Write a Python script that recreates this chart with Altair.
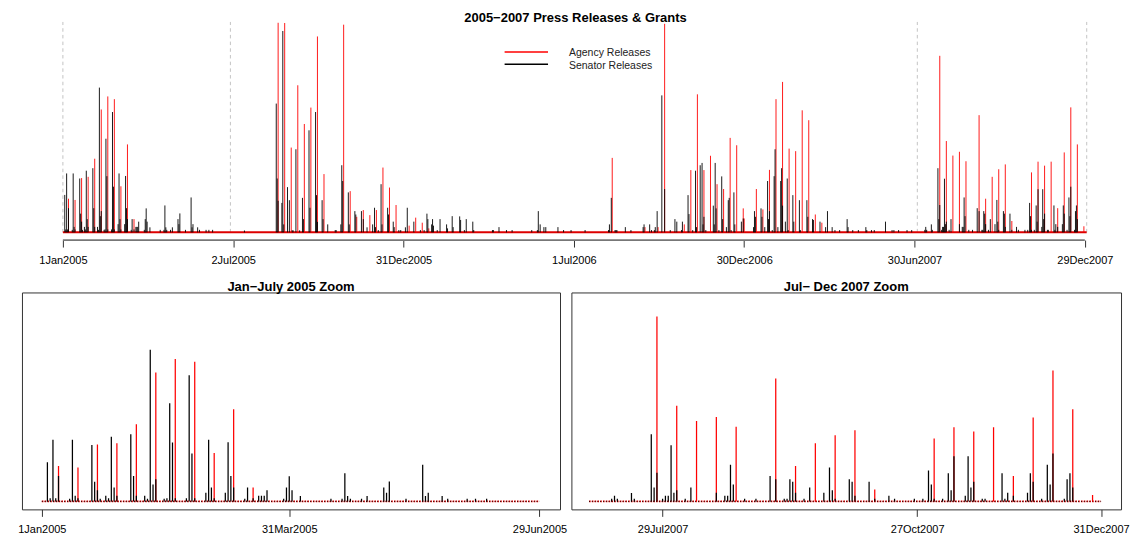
import altair as alt
import pandas as pd

# ---------------- data (day index: 0 = 1 Jan 2005) ----------------
sen_days = [2,3,4,5,6,10,11,12,13,18,19,20,21,23,24,25,26,27,32,33,34,37,38,39,40,41,44,45,46,47,48,
            52,53,54,55,59,60,61,62,66,67,68,69,73,74,76,78,79,80,81,87,88,89,90,93,104,108,109,110,111,
            115,117,123,124,125,131,137,138,139,144,146,153,156,160,
            194,228,229,230,234,235,236,240,242,245,246,249,253,256,257,263,264,270,271,272,277,278,283,
            291,292,297,298,299,305,306,312,313,319,321,325,331,333,334,337,340,341,347,348,353,354,359,
            361,366,368,375,382,386,389,390,394,395,396,400,403,410,411,416,417,424,425,429,431,438,439,
            459,460,466,474,480,501,507,508,510,514,516,529,535,543,
            558,583,584,586,590,591,592,601,607,620,621,627,629,632,633,635,640,643,649,654,656,661,662,
            668,669,673,676,677,681,683,684,685,687,695,696,697,698,701,704,705,709,711,712,714,717,718,
            725,727,738,739,740,746,747,750,753,754,755,758,760,761,764,767,768,769,772,774,775,780,781,
            787,788,795,796,801,802,809,815,817,822,825,830,838,839,844,850,858,859,864,867,879,886,888,
            893,902,907,
            921,922,923,928,929,935,936,937,939,940,941,942,943,944,947,949,958,961,962,963,964,968,972,
            977,979,982,983,984,985,986,989,991,996,998,999,1000,1005,1006,1007,1012,1014,1019,1021,1028,
            1031,1033,1034,1035,1038,1040,1041,1042,1046,1047,1048,1049,1052,1053,1059,1060,1061,1063,
            1068,1069,1070,1073,1075,1076,1077,1081,1082,1083,1084]
sen_vals = [17.8,1.4,28.0,1.4,11.5,1.2,28.0,2.6,1.4,25.6,8.9,5.1,1.2,2.6,1.4,29.3,6.3,2.6,30.5,11.5,2.6,
            2.6,1.2,68.8,7.7,10.1,1.2,1.4,44.5,26.7,1.4,
            1.4,57.2,21.7,1.4,3.9,28.0,6.3,1.4,3.9,26.8,11.5,6.3,1.2,6.3,1.4,2.6,2.6,2.6,5.1,1.2,6.3,11.4,
            5.1,2.4,1.2,1.2,12.8,2.4,1.2,
            1.2,2.4,6.3,3.9,9.0,1.2,16.6,2.4,3.9,2.4,1.2,1.2,1.2,1.2,
            0.9,61.2,25.6,15.0,14.0,95.7,3.8,21.5,15.3,1.0,1.0,39.5,1.0,16.4,6.3,48.5,11.7,57.2,17.7,5.0,
            15.3,6.3,3.8,
            1.1,1.1,3.8,31.9,24.4,19.0,3.8,10.1,8.5,10.1,6.3,2.4,3.8,11.7,2.5,1.1,22.9,3.8,11.7,8.5,5.1,
            2.5,1.1,
            1.1,2.4,11.7,5.1,1.1,1.1,8.9,6.3,3.8,6.3,3.2,1.1,6.3,3.8,1.9,7.7,2.5,7.6,5.9,1.1,6.3,5.1,1.1,
            1.1,1.1,2.5,1.1,1.1,1.1,1.1,10.1,3.8,2.5,2.5,2.5,1.1,1.1,
            1.1,1.1,3.8,16.4,1.1,1.1,1.1,2.5,1.1,2.5,3.8,3.8,1.1,1.1,2.5,10.1,65.1,20.6,1.1,6.3,5.1,1.1,
            5.1,
            17.7,8.7,1.1,29.3,2.5,31.9,33.0,3.8,7.4,1.1,12.7,3.8,33.0,11.4,1.1,26.6,6.3,2.5,15.3,16.4,1.1,
            19.0,3.8,
            5.1,6.6,2.5,10.1,7.4,11.4,7.4,2.5,24.4,6.3,10.1,1.1,26.7,39.5,2.5,24.4,30.5,12.7,5.1,25.6,1.1,
            17.7,5.1,
            15.3,1.1,15.3,7.4,6.3,5.9,5.1,2.5,10.1,2.5,1.1,1.1,6.3,2.5,1.1,1.1,2.5,1.1,1.1,1.1,5.1,1.1,1.1,
            1.1,1.1,1.1,
            1.2,2.6,1.2,3.8,1.2,30.5,6.3,13.0,1.2,2.6,2.6,25.5,3.9,5.1,1.2,6.3,3.9,2.6,2.6,16.6,7.7,1.2,
            1.2,
            11.5,10.1,1.2,1.2,10.1,8.9,3.9,1.2,6.3,3.9,15.4,5.1,1.2,10.1,8.9,2.6,8.9,1.2,2.6,1.2,1.2,
            1.2,14.0,7.7,1.2,1.2,12.8,5.1,20.5,2.6,20.5,6.3,8.9,1.2,1.2,12.8,1.2,3.9,2.6,
            3.9,12.8,8.9,1.2,16.6,7.7,21.7,1.2,10.1,12.8,6.3]

ag_days = [6,13,20,27,34,41,48,55,62,69,76,
           230,237,244,251,258,265,272,279,300,307,314,321,328,335,342,349,356,370,377,384,391,
           587,622,636,643,664,671,678,685,692,699,706,713,720,727,728,741,748,755,762,769,776,783,
           790,797,804,811,
           937,944,951,958,965,979,986,993,1000,1007,1014,1035,1042,1049,1056,1063,1070,1077,1084,1091]
ag_vals = [16.0,15.4,25.8,26.4,35.0,58.4,64.6,63.3,21.9,41.8,6.3,
           99.6,99.5,40.3,69.9,51.5,59.3,93.1,27.7,98.7,19.6,7.4,10.6,8.2,10.6,30.8,21.3,13.0,3.2,7.0,
           4.6,1.9,
           35.4,2.5,2.5,99.1,3.8,29.6,65.6,29.6,36.4,22.9,20.6,44.9,41.4,11.4,6.6,20.6,10.9,29.7,63.3,
           71.5,39.8,38.6,58.0,53.3,8.5,4.6,
           83.9,43.4,36.5,38.3,33.8,55.7,16.0,26.4,30.0,32.3,5.4,28.5,33.6,31.7,33.6,11.5,38.0,59.4,
           41.8,2.9]

series_names = ["Agency Releases", "Senator Releases"]
series_colors = ["#ff0000", "#000000"]

top_tick_days = [0, 182, 364, 546, 728, 910, 1092]
top_tick_labels = ["1Jan2005", "2Jul2005", "31Dec2005", "1Jul2006", "30Dec2006", "30Jun2007", "29Dec2007"]
left_tick_days = [0, 89, 179]
left_tick_labels = ["1Jan2005", "31Mar2005", "29Jun2005"]
right_tick_days = [939, 1029, 1094]
right_tick_labels = ["29Jul2007", "27Oct2007", "31Dec2007"]
zoom_bounds = [0, 179, 913, 1094]

main_title = "2005\u22122007 Press Releases & Grants"
left_title = "Jan\u2212July 2005 Zoom"
right_title = "Jul\u2212 Dec 2007 Zoom"

# ---------------- tables ----------------
bars = pd.DataFrame({
    "day": ag_days + sen_days,
    "value": ag_vals + sen_vals,
    "base": 0.0,
    "series": [series_names[0]] * len(ag_days) + [series_names[1]] * len(sen_days),
})
guides = pd.DataFrame({"day": zoom_bounds, "lo": 0, "hi": 100})
base_all = pd.DataFrame({"start": [min(zoom_bounds)], "end": [max(zoom_bounds)], "zero": [0]})
axis_line = pd.DataFrame({"start": [min(top_tick_days)], "end": [max(top_tick_days)]})

FONT = "Liberation Sans"
TOP_W, TOP_H = 1101, 218.5
BOT_H = 217.3
BL_W, BR_W = 539, 550.6


def lab_expr(vals, labs):
    e = "''"
    for v, l in zip(reversed(vals), reversed(labs)):
        e = f"datum.value == {v} ? '{l}' : {e}"
    return e


def x_axis(vals, labs, pad):
    return alt.Axis(values=vals, labelExpr=lab_expr(vals, labs), domain=False, grid=False, title=None,
                    tickSize=7, tickColor="#333", tickWidth=1, labelFont=FONT, labelFontSize=11,
                    labelColor="#000", labelBaseline="alphabetic", labelPadding=pad,
                    labelFlush=False, labelOverlap=False)


color = alt.Color("series:N", scale=alt.Scale(domain=series_names, range=series_colors), legend=None)

# ---------------- top panel ----------------
tx = alt.Scale(domain=[-43.73, 1130.67], nice=False, zero=False)
ty = alt.Scale(domain=[-3.65, 100], nice=False, zero=False)
tax = x_axis(top_tick_days, top_tick_labels, 16.3)

t_guides = alt.Chart(guides).mark_rule(color="#c4c4c4", strokeWidth=1, strokeDash=[3.5, 3.2]).encode(
    x=alt.X("day:Q", scale=tx, axis=tax), y=alt.Y("lo:Q", scale=ty, axis=None), y2="hi:Q")
t_bars = alt.Chart(bars).mark_rule(strokeWidth=0.9, clip=True).encode(
    x=alt.X("day:Q", scale=tx, axis=tax),
    y=alt.Y("value:Q", scale=ty, axis=None), y2="base:Q", color=color)
t_base = alt.Chart(base_all).mark_rule(color="#dd0000", strokeWidth=2).encode(
    x=alt.X("start:Q", scale=tx, axis=tax), x2="end:Q", y=alt.Y("zero:Q", scale=ty, axis=None))
t_axis = alt.Chart(axis_line).mark_rule(color="#777", strokeWidth=1.8).encode(
    x=alt.X("start:Q", scale=tx, axis=tax), x2="end:Q", y=alt.value(TOP_H))

leg_layers = []
for i, (nm, col) in enumerate(zip(series_names, series_colors)):
    d = pd.DataFrame({"name": [nm]})
    leg_layers.append(alt.Chart(d).mark_rule(color=col, strokeWidth=1.5).encode(
        x=alt.value(483.5), x2=alt.value(527), y=alt.value(30.2 + 12.3 * i)))
    leg_layers.append(alt.Chart(d).mark_text(align="left", baseline="alphabetic", font=FONT,
                                             fontSize=10.5, color="#222").encode(
        x=alt.value(548), y=alt.value(34.6 + 12.3 * i), text="name:N"))

top = alt.layer(t_guides, t_base, t_bars, t_axis, *leg_layers).properties(
    width=TOP_W, height=TOP_H,
    title=alt.Title(main_title, font=FONT, fontSize=13, fontWeight="bold", color="#000",
                    baseline="alphabetic", offset=-13.5, dx=4, anchor="middle"))


# ---------------- zoom panels ----------------
def zoom_panel(lo, hi, dom, width, ticks, labels, title):
    xs = alt.Scale(domain=dom, nice=False, zero=False)
    ys = alt.Scale(domain=[-3.62, 94.75], nice=False, zero=False)
    ax = x_axis(ticks, labels, 16.5)
    b = pd.DataFrame({"start": [lo], "end": [hi], "zero": [0]})
    base_r = alt.Chart(b).mark_rule(color="#e00000", strokeWidth=1.6, strokeDash=[1.6, 1.2]).encode(
        x=alt.X("start:Q", scale=xs, axis=ax), x2="end:Q", y=alt.Y("zero:Q", scale=ys, axis=None))
    base_k = alt.Chart(b).mark_rule(color="#000", strokeWidth=1.0, strokeDash=[0.8, 2.0]).encode(
        x=alt.X("start:Q", scale=xs, axis=ax), x2="end:Q", y=alt.Y("zero:Q", scale=ys, axis=None))
    br = alt.Chart(bars).transform_filter(f"datum.day >= {lo} && datum.day <= {hi}").mark_rule(
        strokeWidth=1.25, clip=True).encode(
        x=alt.X("day:Q", scale=xs, axis=ax),
        y=alt.Y("value:Q", scale=ys, axis=None), y2="base:Q", color=color)
    return alt.layer(base_r, base_k, br).properties(
        width=width, height=BOT_H,
        view=alt.ViewBackground(stroke="#333", strokeWidth=1),
        title=alt.Title(title, font=FONT, fontSize=13, fontWeight="bold", color="#000",
                        baseline="alphabetic", offset=-12, anchor="middle"))


bl = zoom_panel(zoom_bounds[0], zoom_bounds[1], [-7.15, 186.4], BL_W, left_tick_days, left_tick_labels, left_title)
brc = zoom_panel(zoom_bounds[2], zoom_bounds[3], [906.76, 1101.06], BR_W, right_tick_days, right_tick_labels, right_title)

bottom = alt.hconcat(bl, brc, spacing=11.4, bounds="flush")

chart = alt.vconcat(top, bottom, spacing=52, bounds="flush").properties(
    padding={"left": 17.0, "top": 10.5, "right": 5, "bottom": 5}
).configure(font=FONT, background="white").configure_view(stroke="transparent")

chart.save("out.html", embed_options={"renderer": "svg", "actions": False})
